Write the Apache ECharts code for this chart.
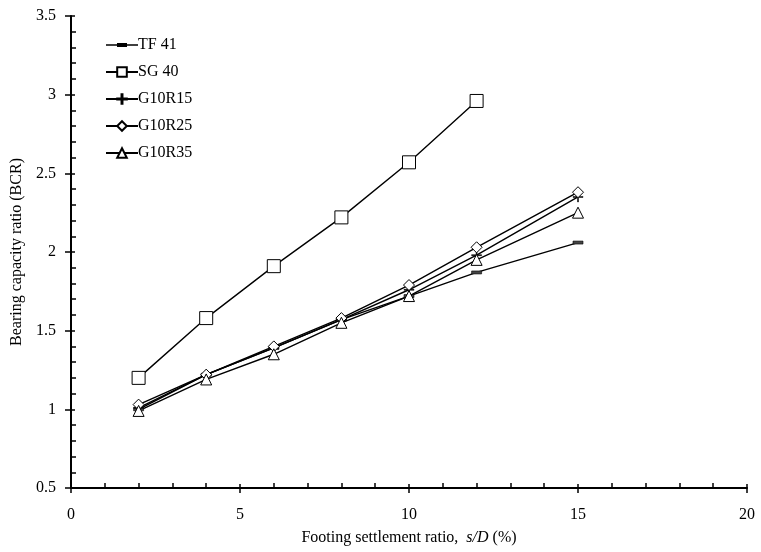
<!DOCTYPE html>
<html>
<head>
<meta charset="utf-8">
<script src="https://cdn.jsdelivr.net/npm/echarts@6/dist/echarts.min.js"></script>
<style>
  html, body { margin: 0; padding: 0; background: #fff; }
  #chart { width: 761px; height: 552px; }
</style>
</head>
<body>
<div id="chart"></div>
<script>
// Settlement ratios s/D (%) at which BCR was measured
const settlement = [2, 4, 6, 8, 10, 12, 15];
const settlementSG = [2, 4, 6, 8, 10, 12];

// Bearing capacity ratio for each footing configuration
const tf41   = [1.00, 1.22, 1.39, 1.57, 1.72, 1.87, 2.06];
const sg40   = [1.20, 1.58, 1.91, 2.22, 2.57, 2.96];
const g10r15 = [1.01, 1.22, 1.39, 1.57, 1.76, 1.98, 2.35];
const g10r25 = [1.03, 1.22, 1.40, 1.58, 1.79, 2.03, 2.38];
const g10r35 = [0.99, 1.19, 1.35, 1.55, 1.72, 1.95, 2.25];

const seriesNames = ['TF 41', 'SG 40', 'G10R15', 'G10R25', 'G10R35'];
const xTicks = [0, 5, 10, 15, 20];
const yTicks = [0.5, 1, 1.5, 2, 2.5, 3, 3.5];

const FONT = '"Liberation Serif", "Times New Roman", serif';
const plus = 'path://M4.5,0h1v4.5h4.5v1h-4.5v4.5h-1v-4.5h-4.5v-1h4.5z';
// Legend key for TF 41: line with a thick dash in the middle (corner specks fix the box size)
const dashKey = 'path://M0,0h0.01v0.01h-0.01z M0,5.2h32v1.6h-32z M11,4h10v4h-10z M31.99,11.99h0.01v0.01h-0.01z';

function pairs(xs, ys) { return xs.map((x, i) => [x, ys[i]]); }

function lineSeries(name, xs, ys, symbol, size, filled) {
  return {
    name: name,
    type: 'line',
    xAxisIndex: 0,
    yAxisIndex: 0,
    data: pairs(xs, ys),
    symbol: symbol,
    symbolSize: size,
    showAllSymbol: true,
    lineStyle: { color: '#000', width: 1.4 },
    itemStyle: filled
      ? { color: filled, borderColor: '#000', borderWidth: 0.5 }
      : { color: '#fff', borderColor: '#000', borderWidth: 1 },
    emphasis: { disabled: true },
    animation: false
  };
}

const tickFont = { fontFamily: FONT, fontSize: 16, color: '#000' };

const legendData = seriesNames.map(n => n === 'TF 41'
  ? { name: n, icon: dashKey, itemStyle: { color: '#000', borderWidth: 0 } }
  : { name: n });

const chart = echarts.init(document.getElementById('chart'), null, { renderer: 'canvas' });
chart.setOption({
  backgroundColor: '#fff',
  animation: false,
  grid: { left: 71, right: 14, top: 16, bottom: 64 },
  legend: {
    data: legendData,
    orient: 'vertical',
    left: 100,
    top: 32,
    itemWidth: 32,
    itemHeight: 12,
    itemGap: 11,
    textStyle: { fontFamily: FONT, fontSize: 16, color: '#000', padding: [0, 0, 0, -5] }
  },
  xAxis: [
    {
      type: 'value', min: 0, max: 20, interval: 5,
      axisLine: { show: true, lineStyle: { color: '#000', width: 2 } },
      axisTick: { show: true, inside: false, length: 5, lineStyle: { color: '#000', width: 1.5 } },
      axisLabel: Object.assign({ margin: 19, formatter: v => xTicks.includes(v) ? String(v) : '' }, tickFont),
      splitLine: { show: false },
      name: '{n|Footing settlement ratio,  }{i|s/D}{n| (%)}',
      nameLocation: 'middle',
      nameGap: 42,
      nameTextStyle: {
        rich: {
          n: { fontFamily: FONT, fontSize: 16, color: '#000' },
          i: { fontFamily: FONT, fontSize: 16, color: '#000', fontStyle: 'italic' }
        }
      }
    },
    {
      type: 'value', min: 0, max: 20, interval: 5, position: 'bottom',
      axisLine: { show: false },
      axisTick: { show: true, inside: true, length: 4, lineStyle: { color: '#000', width: 1.5 } },
      minorTick: { show: true, splitNumber: 5, length: 5, lineStyle: { color: '#000', width: 1.5 } },
      axisLabel: { show: false },
      splitLine: { show: false }
    }
  ],
  yAxis: [
    {
      type: 'value', min: 0.5, max: 3.5, interval: 0.5,
      axisLine: { show: true, lineStyle: { color: '#000', width: 2 } },
      axisTick: { show: true, inside: false, length: 6, lineStyle: { color: '#000', width: 1.5 } },
      axisLabel: Object.assign({ margin: 15, formatter: v => yTicks.includes(v) ? String(v) : '' }, tickFont),
      splitLine: { show: false },
      name: 'Bearing capacity ratio (BCR)',
      nameLocation: 'middle',
      nameGap: 46,
      nameTextStyle: { fontFamily: FONT, fontSize: 16, color: '#000' }
    },
    {
      type: 'value', min: 0.5, max: 3.5, interval: 0.5, position: 'left',
      axisLine: { show: false },
      axisTick: { show: true, inside: true, length: 4, lineStyle: { color: '#000', width: 1.5 } },
      minorTick: { show: true, splitNumber: 5, length: 5, lineStyle: { color: '#000', width: 1.5 } },
      axisLabel: { show: false },
      splitLine: { show: false }
    }
  ],
  series: [
    lineSeries('TF 41', settlement, tf41, 'rect', [10, 3], '#444'),
    lineSeries('SG 40', settlementSG, sg40, 'rect', 13, null),
    lineSeries('G10R15', settlement, g10r15, plus, 10, '#000'),
    lineSeries('G10R25', settlement, g10r25, 'diamond', 11, null),
    lineSeries('G10R35', settlement, g10r35, 'triangle', 11, null)
  ]
});
</script>
</body>
</html>
